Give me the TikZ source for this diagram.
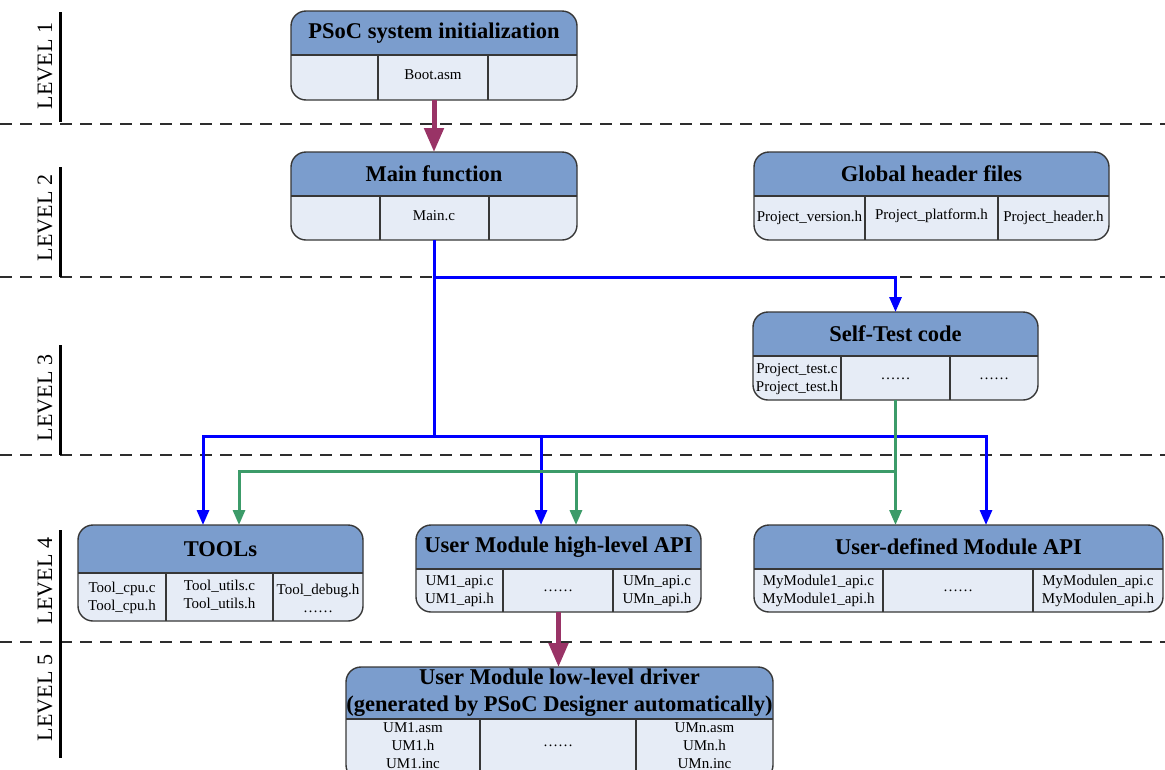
\documentclass[tikz,border=0pt]{standalone}
\usepackage{fontspec}
\setmainfont{Liberation Serif}
\usetikzlibrary{arrows.meta}
\definecolor{hdrblue}{RGB}{123,157,205}
\definecolor{bodyblue}{RGB}{230,236,246}
\definecolor{edge}{RGB}{55,55,55}
\definecolor{mag}{RGB}{153,51,102}
\definecolor{grn}{RGB}{60,155,105}
\definecolor{dashgray}{RGB}{45,45,45}
\tikzset{
 boxbody/.style={rectangle, rounded corners=15pt, fill=bodyblue, inner sep=0pt, outer sep=0pt},
 hdrfill/.style={fill=hdrblue, rounded corners=15pt},
 boxline/.style={draw=edge, line width=1.4pt},
 titletext/.style={font=\fontsize{22.5}{27}\selectfont\bfseries, align=center, inner sep=0pt},
 celltext/.style={font=\fontsize{15}{18}\selectfont, align=center, inner sep=0pt},
 levellabel/.style={font=\fontsize{22}{24}\selectfont, rotate=90, anchor=base, inner sep=0pt},
 levelbar/.style={line width=3pt, black},
 sepline/.style={draw=dashgray, line width=1.8pt, dash pattern=on 12pt off 8pt},
 blueline/.style={draw=blue, line width=3pt},
 bluearrow/.style={draw=blue, line width=3pt, -{Triangle[length=15pt,width=12pt]}},
 greenarrow/.style={draw=grn, line width=3pt, -{Triangle[length=15pt,width=12pt]}},
 magarrow/.style={draw=mag, line width=5pt, -{Triangle[length=24pt,width=19pt]}},
}
% name, x1, y1, x2, y2, yh, title
\newcommand{\pbox}[7]{%
 \node[boxbody, minimum width={(#4-#2)*1pt}, minimum height={(#5-#3)*1pt}] (#1) at ({(#2+#4)/2},{(#3+#5)/2}) {};
 \begin{scope}
  \clip (#2,#3) rectangle (#4,#6);
  \fill[hdrfill] (#2,#3) rectangle (#4,#5);
 \end{scope}
 \draw[boxline, rounded corners=15pt] (#1.north west) rectangle (#1.south east);
 \draw[boxline] (#2,#6) -- (#4,#6);
 \node[titletext] (#1-title) at ({(#2+#4)/2},{(#3+#6)/2}) {#7};
}
\newcommand{\vdiv}[3]{\draw[boxline] (#1,#2) -- (#1,#3);}
\newcommand{\cell}[4]{\node[celltext] (#1) at (#2,#3) {#4};}
\begin{document}
\begin{tikzpicture}[x=1pt,y=-1pt]
\useasboundingbox (0,0) rectangle (1165,769);
% separators
\draw[sepline] (0,124) -- (1165,124);
\draw[sepline] (0,277) -- (1165,277);
\draw[sepline] (0,455) -- (1165,455);
\draw[sepline] (0,642) -- (1165,642);
% level bars and labels
\draw[levelbar] (60,12) -- (60,122);
\draw[levelbar] (60,167) -- (60,277);
\draw[levelbar] (60,345) -- (60,455);
\draw[levelbar] (60,530) -- (60,642);
\draw[levelbar] (60,642) -- (60,758);
\node[levellabel] (lv1) at (52,66) {LEVEL 1};
\node[levellabel] (lv2) at (52,218) {LEVEL 2};
\node[levellabel] (lv3) at (52,398) {LEVEL 3};
\node[levellabel] (lv4) at (52,581) {LEVEL 4};
\node[levellabel] (lv5) at (52,698) {LEVEL 5};
% boxes
\pbox{init}{291}{11}{577}{100}{55}{PSoC system initialization}
\vdiv{378}{55}{100}\vdiv{488}{55}{100}
\cell{init-c}{433}{75}{Boot.asm}

\pbox{main}{291}{152}{577}{240}{196}{Main function}
\vdiv{380}{196}{240}\vdiv{489}{196}{240}
\cell{main-c}{434}{216}{Main.c}

\pbox{glob}{754}{152}{1109}{240}{196}{Global header files}
\vdiv{865}{196}{240}\vdiv{998}{196}{240}
\cell{glob-a}{809.5}{218}{Project\_version.h}
\cell{glob-b}{931.5}{216}{Project\_platform.h}
\cell{glob-c}{1053.5}{218}{Project\_header.h}

\pbox{st}{753}{312}{1038}{400}{356}{Self-Test code}
\vdiv{841}{356}{400}\vdiv{950}{356}{400}
\cell{st-a}{797}{379}{Project\_test.c\\Project\_test.h}
\cell{st-b}{895.5}{379}{……}
\cell{st-c}{994}{379}{……}

\pbox{tools}{78}{525}{363}{621}{573}{TOOLs}
\vdiv{166}{573}{621}\vdiv{273}{573}{621}
\cell{tools-a}{122}{598}{Tool\_cpu.c\\Tool\_cpu.h}
\cell{tools-b}{219.5}{595}{Tool\_utils.c\\Tool\_utils.h}
\cell{tools-c}{318}{598}{Tool\_debug.h\\……}

\pbox{umh}{416}{525}{701}{612}{569}{User Module high-level API}
\vdiv{503}{569}{612}\vdiv{613}{569}{612}
\cell{umh-a}{459.5}{591}{UM1\_api.c\\UM1\_api.h}
\cell{umh-b}{558}{591}{……}
\cell{umh-c}{657}{591}{UMn\_api.c\\UMn\_api.h}

\pbox{ud}{754}{525}{1163}{612}{569}{User-defined Module API}
\vdiv{883}{569}{612}\vdiv{1033}{569}{612}
\cell{ud-a}{818.5}{591}{MyModule1\_api.c\\MyModule1\_api.h}
\cell{ud-b}{958}{591}{……}
\cell{ud-c}{1098}{591}{MyModulen\_api.c\\MyModulen\_api.h}

\pbox{low}{346}{667}{773}{780}{719}{User Module low-level driver\\(generated by PSoC Designer automatically)}
\vdiv{480}{719}{780}\vdiv{636}{719}{780}
\cell{low-a}{413}{746}{UM1.asm\\UM1.h\\UM1.inc}
\cell{low-b}{558}{746}{……}
\cell{low-c}{704.5}{746}{UMn.asm\\UMn.h\\UMn.inc}

% connectors
\draw[magarrow] (init.south) -- (main.north);
\draw[magarrow] (umh.south) -- (umh.south |- low.north);

\coordinate (bt) at (434,277);
\coordinate (bj) at (434,436);
\coordinate (bl) at (203,436);
\coordinate (bm) at (541,436);
\coordinate (br) at (986,436);
\draw[blueline] (main.south) -- (bj);
\draw[bluearrow] (bt) -| (st.north);
\draw[bluearrow] (bj) -| (bl |- tools.north);
\draw[bluearrow] (bj) -| (br |- ud.north);
\draw[bluearrow] (bm) -- (bm |- umh.north);

\coordinate (gj) at (st.south |- 0,471);
\coordinate (gl) at (239,471);
\coordinate (gm) at (576,471);
\draw[greenarrow] (st.south) -- (st.south |- ud.north);
\draw[greenarrow] (gj) -| (gl |- tools.north);
\draw[greenarrow] (gm) -- (gm |- umh.north);
\end{tikzpicture}
\end{document}
